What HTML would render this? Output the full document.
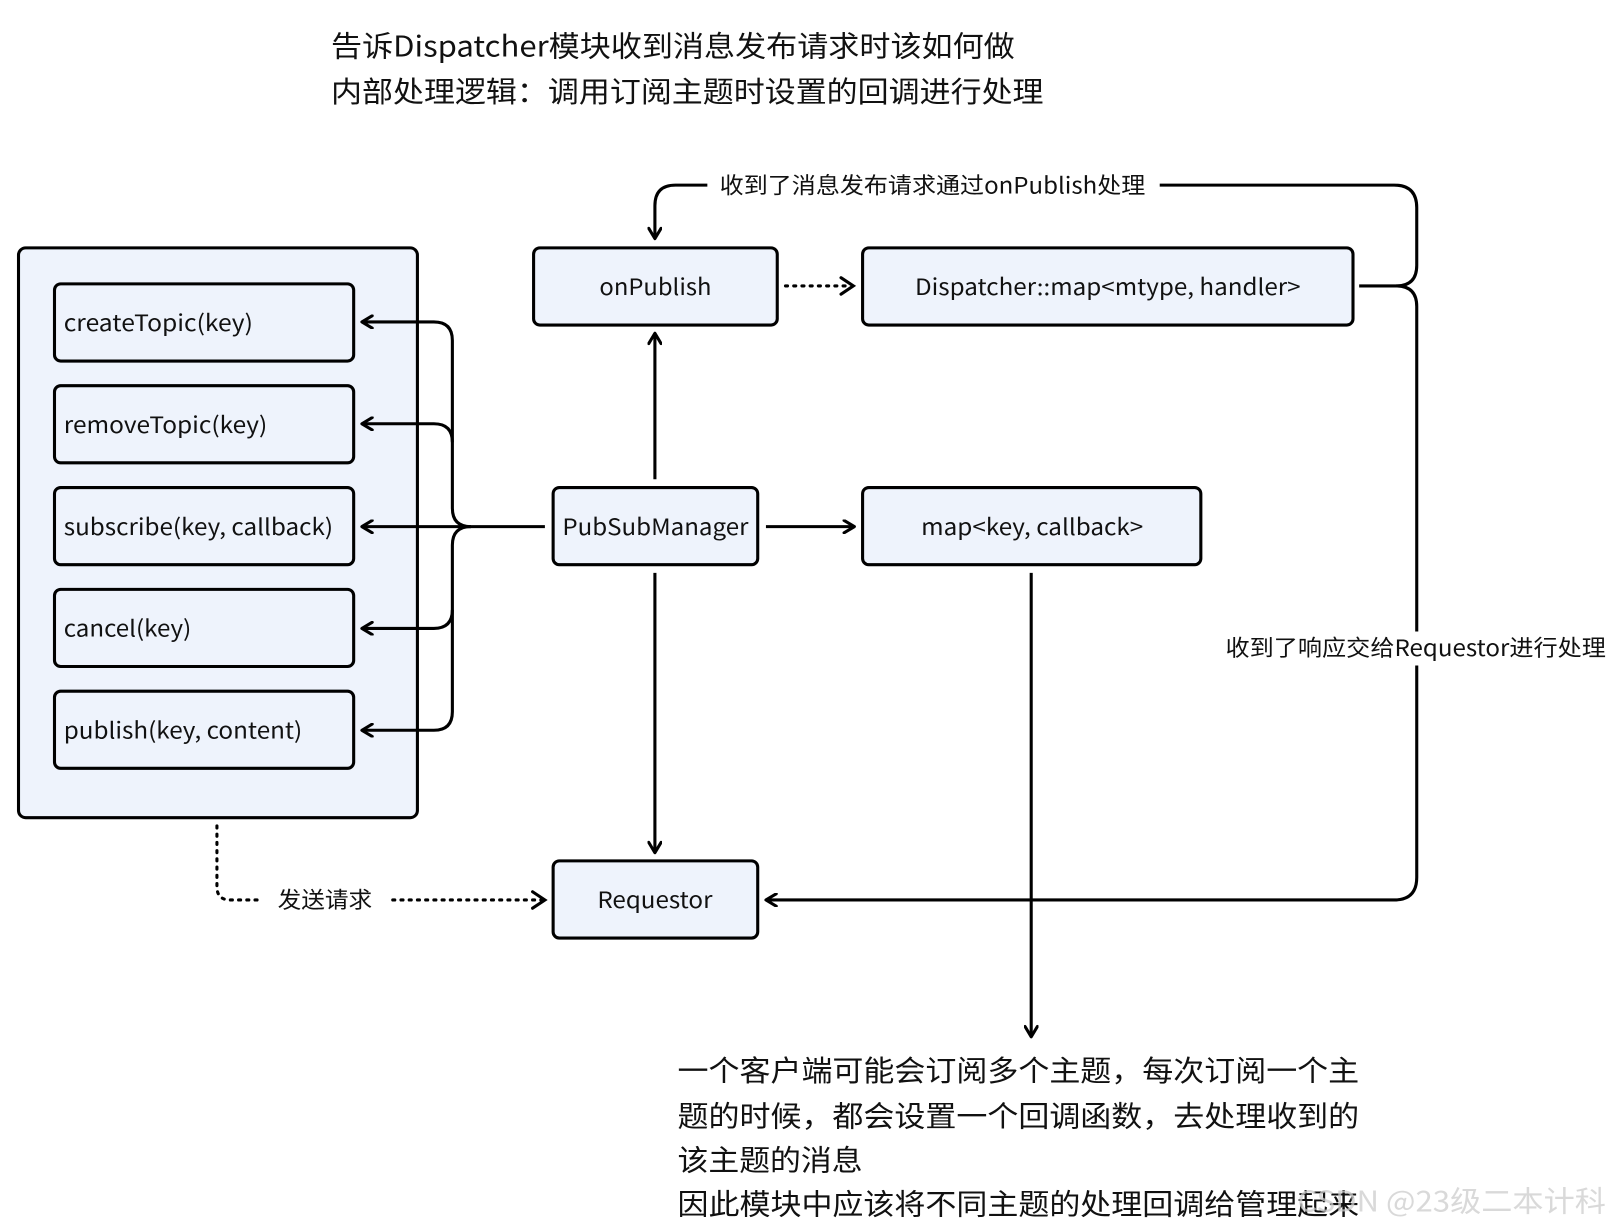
<!DOCTYPE html>
<html><head><meta charset="utf-8"><style>
html,body{margin:0;padding:0;background:#fff;}
svg{display:block;}
text{font-family:"Noto Sans CJK SC","Liberation Sans",sans-serif;fill:#111;}
</style></head><body>
<svg width="1609" height="1225" viewBox="0 0 1565 1191" preserveAspectRatio="none" xmlns="http://www.w3.org/2000/svg">
<defs>
<marker id="a" markerWidth="14" markerHeight="14" refX="12" refY="7" orient="auto" markerUnits="userSpaceOnUse">
<path d="M2,1 L12,7 L2,13" fill="none" stroke="#000" stroke-width="3" stroke-linecap="round" stroke-linejoin="round"/>
</marker>
</defs>
<text x="322" y="55" font-size="28" textLength="665" lengthAdjust="spacingAndGlyphs">告诉Dispatcher模块收到消息发布请求时该如何做</text>
<text x="322" y="99" font-size="28" textLength="693" lengthAdjust="spacingAndGlyphs">内部处理逻辑：调用订阅主题时设置的回调进行处理</text>

<g fill="#eef3fc" stroke="#000" stroke-width="3">
<rect x="18" y="241" width="388" height="554" rx="7"/>
<rect x="53" y="276" width="291" height="75" rx="6"/>
<rect x="53" y="375" width="291" height="75" rx="6"/>
<rect x="53" y="474" width="291" height="75" rx="6"/>
<rect x="53" y="573" width="291" height="75" rx="6"/>
<rect x="53" y="672" width="291" height="75" rx="6"/>
<rect x="519" y="241" width="237" height="75" rx="6"/>
<rect x="839" y="241" width="477" height="75" rx="6"/>
<rect x="538" y="474" width="199" height="75" rx="6"/>
<rect x="839" y="474" width="329" height="75" rx="6"/>
<rect x="538" y="837" width="199" height="75" rx="6"/>
</g>
<g font-size="22">
<text x="62" y="322" textLength="184" lengthAdjust="spacingAndGlyphs">createTopic(key)</text>
<text x="62" y="421" textLength="198" lengthAdjust="spacingAndGlyphs">removeTopic(key)</text>
<text x="62" y="520" textLength="262" lengthAdjust="spacingAndGlyphs">subscribe(key, callback)</text>
<text x="62" y="619" textLength="124" lengthAdjust="spacingAndGlyphs">cancel(key)</text>
<text x="62" y="718" textLength="232" lengthAdjust="spacingAndGlyphs">publish(key, content)</text>
<text x="583" y="287" textLength="109" lengthAdjust="spacingAndGlyphs">onPublish</text>
<text x="890" y="287" textLength="375" lengthAdjust="spacingAndGlyphs">Dispatcher::map&lt;mtype, handler&gt;</text>
<text x="547" y="520" textLength="181" lengthAdjust="spacingAndGlyphs">PubSubManager</text>
<text x="896" y="520" textLength="216" lengthAdjust="spacingAndGlyphs">map&lt;key, callback&gt;</text>
<text x="581" y="883" textLength="112" lengthAdjust="spacingAndGlyphs">Requestor</text>
<text x="700" y="188" textLength="414" lengthAdjust="spacingAndGlyphs">收到了消息发布请求通过onPublish处理</text>
<text x="1192" y="638" textLength="370" lengthAdjust="spacingAndGlyphs">收到了响应交给Requestor进行处理</text>
<text x="270" y="883" textLength="92" lengthAdjust="spacingAndGlyphs">发送请求</text>
</g>

<g fill="none" stroke="#000" stroke-width="3">
<path d="M530,512 H458 M458,512 Q440,512 440,494 V331 Q440,313 422,313 H352" marker-end="url(#a)"/>
<path d="M440,430 Q440,412 422,412 H352" marker-end="url(#a)"/>
<path d="M458,512 H352" marker-end="url(#a)"/>
<path d="M458,512 Q440,512 440,530 V692 Q440,710 422,710 H352" marker-end="url(#a)"/>
<path d="M440,593 Q440,611 422,611 H352" marker-end="url(#a)"/>
<path d="M637,466 V324" marker-end="url(#a)"/>
<path d="M745,512 H831" marker-end="url(#a)"/>
<path d="M637,557 V829" marker-end="url(#a)"/>
<path d="M1003,557 V1008" marker-end="url(#a)"/>
<path d="M688,180 H657 Q637,180 637,200 V232" marker-end="url(#a)"/>
<path d="M1128,180 H1356 Q1378,180 1378,202 V258 Q1378,278 1358,278 H1322"/>
<path d="M1358,278 Q1378,278 1378,298 V614"/>
<path d="M1378,647 V853 Q1378,875 1356,875 H745" marker-end="url(#a)"/>
</g>
<g fill="none" stroke="#000" stroke-width="3" stroke-dasharray="2 6" stroke-linecap="round">
<path d="M764,278 H828"/>
<path d="M211,803 V862 Q211,875 224,875 H254"/>
<path d="M382,875 H528"/>
</g>
<path d="M818,270 L830,278 L818,286" fill="none" stroke="#000" stroke-width="3" stroke-linecap="round"/>
<path d="M518,867 L530,875 L518,883" fill="none" stroke="#000" stroke-width="3" stroke-linecap="round"/>

<g font-size="28">
<text x="659" y="1051" textLength="663" lengthAdjust="spacingAndGlyphs">一个客户端可能会订阅多个主题，每次订阅一个主</text>
<text x="659" y="1095" textLength="663" lengthAdjust="spacingAndGlyphs">题的时候，都会设置一个回调函数，去处理收到的</text>
<text x="659" y="1138" textLength="180" lengthAdjust="spacingAndGlyphs">该主题的消息</text>
<text x="659" y="1181" textLength="663" lengthAdjust="spacingAndGlyphs">因此模块中应该将不同主题的处理回调给管理起来</text>
</g>
<text x="1262" y="1178" font-size="28" textLength="300" lengthAdjust="spacingAndGlyphs" style="fill:#ccc;fill-opacity:0.75">CSDN @23级二本计科</text>
</svg>
</body></html>
